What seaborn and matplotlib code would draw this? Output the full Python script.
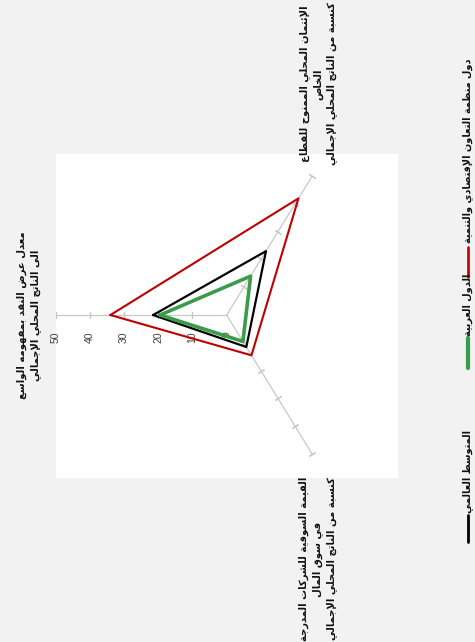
import numpy as np
import pandas as pd
import seaborn as sns
import matplotlib.pyplot as plt
from matplotlib.lines import Line2D

# chart values
categories = [
    "معدل عرض النقد بمفهومه الواسع\nالى الناتج المحلي الإجمالي",
    "الإئتمان المحلي الممنوح للقطاع\nالخاص\nكنسبة من الناتج المحلي الإجمالي",
    "القيمة السوقية للشركات المدرجة\nفي سوق المال\nكنسبة من الناتج المحلي الإجمالي",
]
series_names = ["المتوسط العالمي", "الدول العربية", "دول منظمة التعاون الإقتصادي والتنمية"]
world = [21.5, 23, 11.5]
arab = [19.5, 14, 9.5]
oecd = [34, 42, 14.5]
r_ticks = [0, 10, 20, 30, 40, 50]

colors = ["#000000", "#3a9c4a", "#c00000"]
widths = [1.6, 2.6, 1.5]

# minimal arabic shaping (presentation forms + visual order)
FORMS = {
    'ء': (0xFE80, 1), 'آ': (0xFE81, 2), 'أ': (0xFE83, 2), 'ؤ': (0xFE85, 2), 'إ': (0xFE87, 2),
    'ئ': (0xFE89, 4), 'ا': (0xFE8D, 2), 'ب': (0xFE8F, 4), 'ة': (0xFE93, 2), 'ت': (0xFE95, 4),
    'ث': (0xFE99, 4), 'ج': (0xFE9D, 4), 'ح': (0xFEA1, 4), 'خ': (0xFEA5, 4), 'د': (0xFEA9, 2),
    'ذ': (0xFEAB, 2), 'ر': (0xFEAD, 2), 'ز': (0xFEAF, 2), 'س': (0xFEB1, 4), 'ش': (0xFEB5, 4),
    'ص': (0xFEB9, 4), 'ض': (0xFEBD, 4), 'ط': (0xFEC1, 4), 'ظ': (0xFEC5, 4), 'ع': (0xFEC9, 4),
    'غ': (0xFECD, 4), 'ف': (0xFED1, 4), 'ق': (0xFED5, 4), 'ك': (0xFED9, 4), 'ل': (0xFEDD, 4),
    'م': (0xFEE1, 4), 'ن': (0xFEE5, 4), 'ه': (0xFEE9, 4), 'و': (0xFEED, 2), 'ى': (0xFEEF, 2),
    'ي': (0xFEF1, 4),
}
LAM_ALEF = {'آ': 0xFEF5, 'أ': 0xFEF7, 'إ': 0xFEF9, 'ا': 0xFEFB}


def shape_line(line):
    toks = []
    i = 0
    while i < len(line):
        c = line[i]
        if c == 'ل' and i + 1 < len(line) and line[i + 1] in LAM_ALEF:
            toks.append((LAM_ALEF[line[i + 1]], 2))
            i += 2
        elif c in FORMS:
            toks.append(FORMS[c])
            i += 1
        else:
            toks.append(c)
            i += 1
    out = []
    for k, t in enumerate(toks):
        if isinstance(t, str):
            out.append(t)
            continue
        base, n = t
        prev = toks[k - 1] if k > 0 else None
        nxt = toks[k + 1] if k + 1 < len(toks) else None
        join_prev = isinstance(prev, tuple) and prev[1] == 4
        join_next = n == 4 and isinstance(nxt, tuple) and nxt[1] > 1
        if n == 1:
            form = 0
        elif n == 2:
            form = 1 if join_prev else 0
        else:
            form = (3 if join_next else 1) if join_prev else (2 if join_next else 0)
        out.append(chr(base + form))
    return ''.join(out[::-1])


def ar(text):
    return '\n'.join(shape_line(l) for l in text.split('\n'))


sns.set_theme(style="white")
plt.rcParams['font.family'] = ['DejaVu Sans']

W, H = 475, 642
fig = plt.figure(figsize=(W / 100, H / 100), dpi=100, facecolor="#f2f2f2")


def px(x, y):
    return x / W, 1 - y / H


# plot area (the whole chart is turned a quarter turn)
ax = fig.add_axes([56 / W, (H - 478) / H, 342 / W, 324 / H])
ax.set_facecolor("white")
for s in ax.spines.values():
    s.set_visible(False)
ax.set_xticks([])
ax.set_yticks([])
ax.set_xlim(-49.9, 50.1)
ax.set_ylim(-50.8, 50.2)

angles = np.radians([180, 60, -60])
cx, cy = np.cos(angles), np.sin(angles)

# spokes with tick marks
for a, ux, uy in zip(angles, cx, cy):
    ax.plot([0, 50 * ux], [0, 50 * uy], color="#c8c8c8", lw=0.9, zorder=1)
    p0 = ax.transData.transform((0, 0))
    p1 = ax.transData.transform((ux, uy))
    ang = np.degrees(np.arctan2(p1[1] - p0[1], p1[0] - p0[0]))
    rr = np.array(r_ticks[1:])
    ax.plot(rr * ux, rr * uy, ls="none", marker=(2, 2, ang), ms=5,
            mec="#c8c8c8", mew=0.9, zorder=1)

# tick labels along the first spoke
for t in r_ticks:
    ax.annotate(str(t), xy=(t * cx[0], 0), xytext=(0, -11.5), textcoords="offset points",
                rotation=90, ha="center", va="top", fontsize=7.5,
                family=["Liberation Sans", "DejaVu Sans"], color="#404040")

# series polygons
for name, vals, col, lw in zip(series_names, [world, arab, oecd], colors, widths):
    v = np.array(vals + vals[:1])
    df = pd.DataFrame({"x": v * np.append(cx, cx[0]), "y": v * np.append(cy, cy[0])})
    sns.lineplot(data=df, x="x", y="y", sort=False, estimator=None, color=col, lw=lw,
                 ax=ax, zorder=3)
ax.set_xlabel("")
ax.set_ylabel("")

# category labels
lab_kw = dict(rotation=90, ha="center", va="center", multialignment="center",
              fontsize=7.2, fontweight="bold", color="#111111", linespacing=1.4)
fig.text(*px(29, 315), ar(categories[0]), **lab_kw)
fig.text(*px(318, 84), ar(categories[1]), **lab_kw)
fig.text(*px(318, 559), ar(categories[2]), **lab_kw)

# legend, drawn by hand because it is turned too
leg = [(445, 510, 515, 542), (278, 333, 338, 368), (55, 240, 247, 277)]
for name, col, lw, (t0, t1, l0, l1) in zip(series_names, colors, widths, leg):
    fig.text(*px(468, t1 + 3), ar(name), rotation=90, ha="center", va="bottom",
             fontsize=7, fontweight="bold", color="#111111")
    x0, y0 = px(468, l0)
    x1, y1 = px(468, l1)
    fig.add_artist(Line2D([x0, x1], [y0, y1], transform=fig.transFigure, color=col,
                          lw=lw + 0.4))

fig.savefig("out.png", dpi=100, facecolor=fig.get_facecolor())
